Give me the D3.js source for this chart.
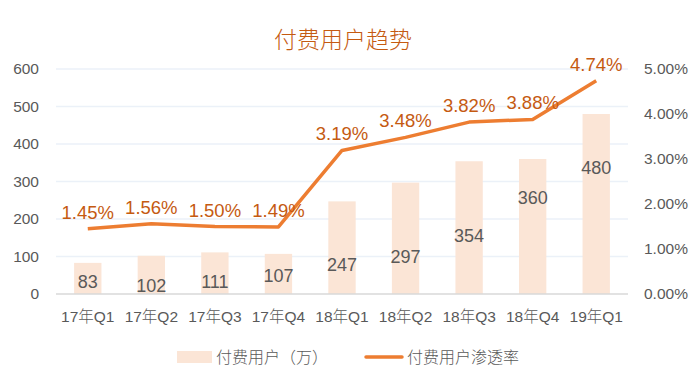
<!DOCTYPE html>
<html>
<head>
<meta charset="utf-8">
<script src="https://cdn.jsdelivr.net/npm/d3@7"></script>
<style>
body { margin: 0; background: #fff; }
text { font-family: "Liberation Sans", "Noto Sans CJK SC", sans-serif; font-weight: 300; }
</style>
</head>
<body>
<div id="chart"></div>
<script>
var categories = ['17年Q1', '17年Q2', '17年Q3', '17年Q4', '18年Q1', '18年Q2', '18年Q3', '18年Q4', '19年Q1'];
var users = [83, 102, 111, 107, 247, 297, 354, 360, 480];
var rate = [1.45, 1.56, 1.50, 1.49, 3.19, 3.48, 3.82, 3.88, 4.74];
// where the bar labels sit, in axis units (they were dragged by hand in the original)
var userLabelAt = [32, 21, 32, 48, 79, 99, 155, 256, 336];
var leftTicks = [0, 100, 200, 300, 400, 500, 600];
var rightTicks = [0, 1, 2, 3, 4, 5];

var W = 700, H = 384;
var m = {left: 56, right: 72, top: 69, bottom: 90};

var svg = d3.select('#chart').append('svg').attr('width', W).attr('height', H);

var x = d3.scaleBand().domain(categories).range([m.left, W - m.right]).paddingInner(0.57).paddingOuter(0.285);
var y = d3.scaleLinear().domain([0, 600]).range([H - m.bottom, m.top]);
var y2 = d3.scaleLinear().domain([0, 5]).range([H - m.bottom, m.top]);

svg.append('text').attr('x', 343).attr('y', 48).attr('text-anchor', 'middle')
	.attr('fill', '#C55A11').attr('font-size', 23).text('付费用户趋势');

// gridlines
svg.append('g').selectAll('line').data(leftTicks.slice(1)).enter().append('line')
	.attr('x1', m.left).attr('x2', W - m.right)
	.attr('y1', function(d) { return y(d); }).attr('y2', function(d) { return y(d); })
	.attr('stroke', '#EBF1F8').attr('stroke-width', 1.5);

// left axis
var ay = svg.append('g').attr('transform', 'translate(' + m.left + ',0)')
	.call(d3.axisLeft(y).tickValues(leftTicks).tickSize(0).tickPadding(17));
ay.select('.domain').remove();
ay.selectAll('text').attr('fill', '#595959').attr('font-size', 15.5);

// right axis
var ay2 = svg.append('g').attr('transform', 'translate(' + (W - m.right) + ',0)')
	.call(d3.axisRight(y2).tickValues(rightTicks).tickSize(0).tickPadding(16)
		.tickFormat(function(d) { return d.toFixed(2) + '%'; }));
ay2.select('.domain').remove();
ay2.selectAll('text').attr('fill', '#595959').attr('font-size', 15.5);

// bars
svg.append('g').selectAll('rect').data(users).enter().append('rect')
	.attr('x', function(d, i) { return x(categories[i]); })
	.attr('width', x.bandwidth())
	.attr('y', function(d) { return y(d); })
	.attr('height', function(d) { return y(0) - y(d); })
	.attr('fill', '#FBE5D6');

// x axis
var ax = svg.append('g').attr('transform', 'translate(0,' + y(0) + ')')
	.call(d3.axisBottom(x).tickSize(0).tickPadding(17));
ax.select('.domain').attr('stroke', '#D9D9D9').attr('stroke-width', 1.5)
	.attr('d', 'M' + m.left + ',0H' + (W - m.right));
ax.selectAll('text').attr('fill', '#595959').attr('font-size', 15.5);

// bar labels
svg.append('g').selectAll('text').data(users).enter().append('text')
	.attr('x', function(d, i) { return x(categories[i]) + x.bandwidth() / 2; })
	.attr('y', function(d, i) { return y(userLabelAt[i]); })
	.attr('dy', '0.35em').attr('text-anchor', 'middle')
	.attr('fill', '#595959').attr('font-size', 18)
	.text(function(d) { return d; });

// line
var cx = function(d, i) { return x(categories[i]) + x.bandwidth() / 2; };
var line = d3.line().x(cx).y(function(d) { return y2(d); });
svg.append('path').datum(rate).attr('d', line)
	.attr('fill', 'none').attr('stroke', '#ED7D31').attr('stroke-width', 3.5).attr('stroke-linejoin', 'round');

svg.append('g').selectAll('text').data(rate).enter().append('text')
	.attr('x', cx)
	.attr('y', function(d) { return y2(d) - 10; })
	.attr('text-anchor', 'middle')
	.attr('fill', '#C55A11').attr('font-size', 18.5)
	.text(function(d) { return d.toFixed(2) + '%'; });

// legend
var lg = svg.append('g');
lg.append('rect').attr('x', 177).attr('y', 351).attr('width', 35).attr('height', 12).attr('fill', '#FBE5D6');
lg.append('text').attr('x', 216).attr('y', 363).attr('fill', '#595959').attr('font-size', 16).text('付费用户（万）');
lg.append('line').attr('x1', 366).attr('x2', 402).attr('y1', 357).attr('y2', 357)
	.attr('stroke', '#ED7D31').attr('stroke-width', 3.5).attr('stroke-linecap', 'round');
lg.append('text').attr('x', 407).attr('y', 363).attr('fill', '#595959').attr('font-size', 16).text('付费用户渗透率');
</script>
</body>
</html>
